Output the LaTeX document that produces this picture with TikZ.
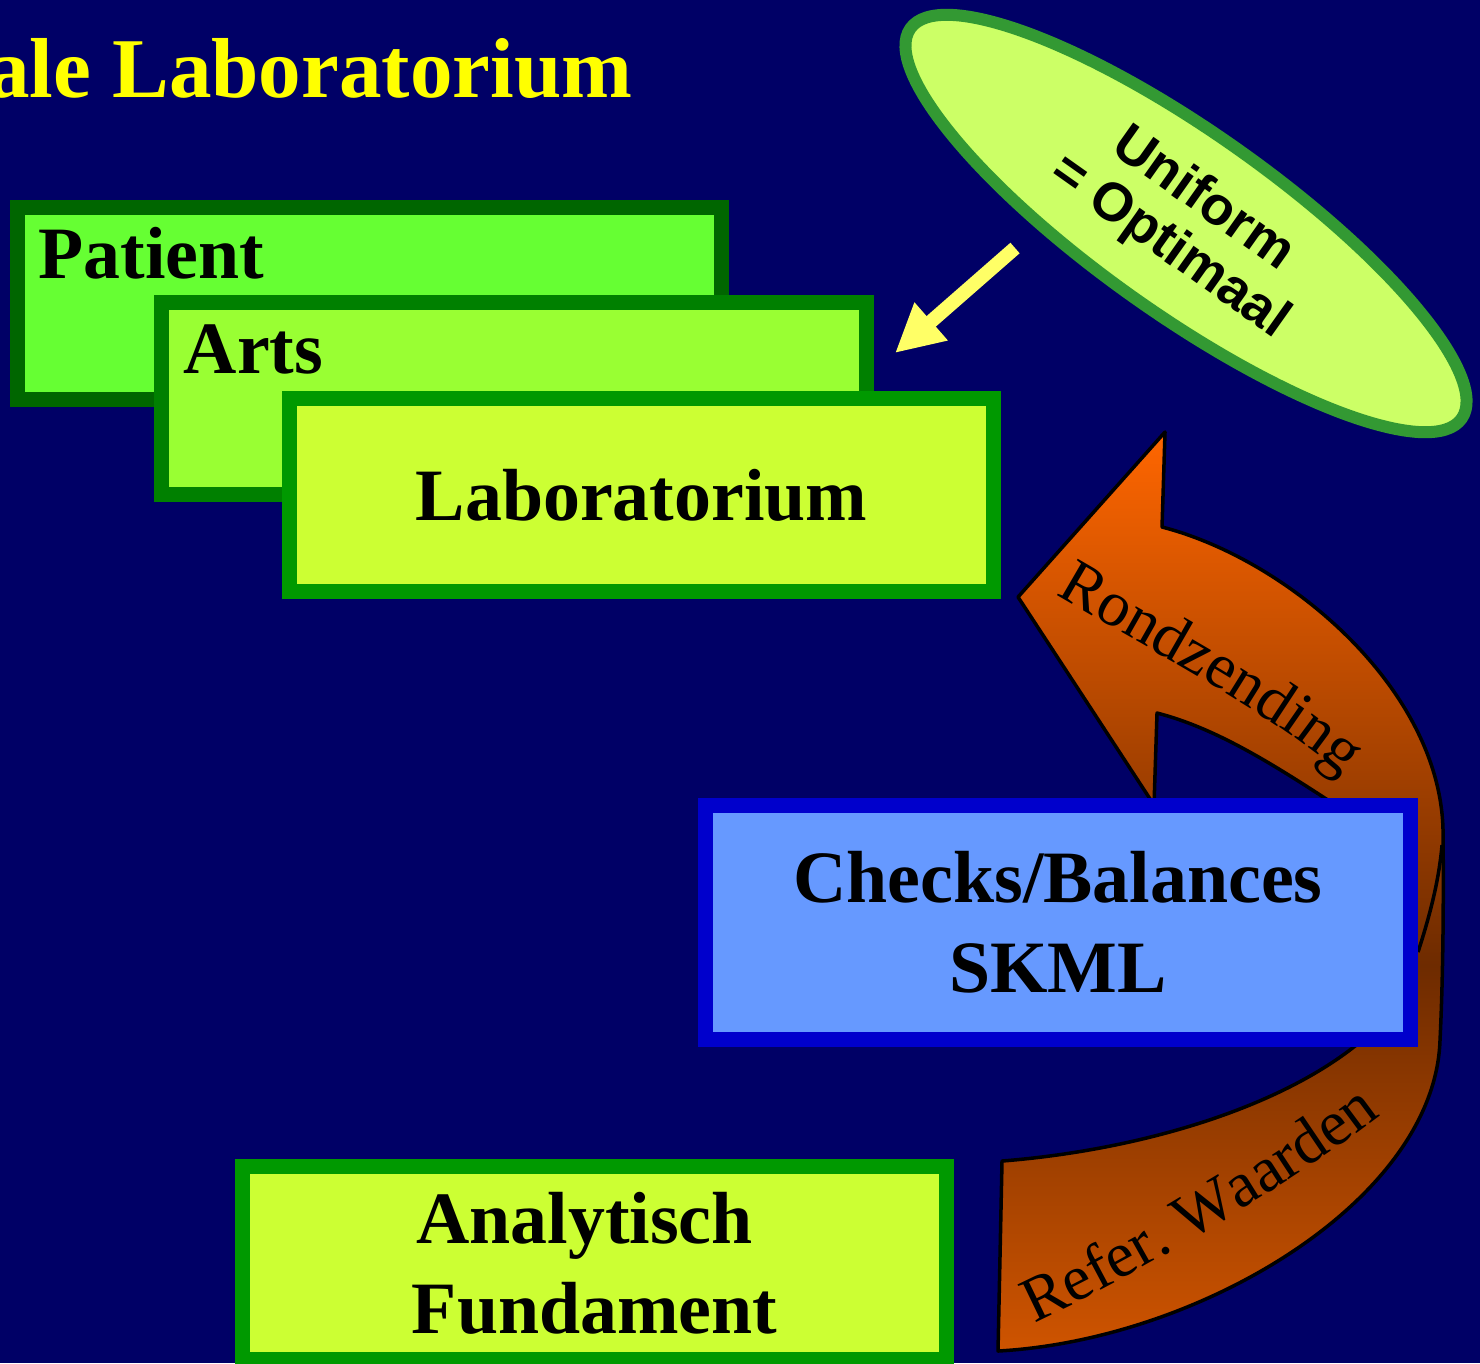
\documentclass[tikz,border=0pt]{standalone}
\usepackage{fontspec}
\setmainfont{Liberation Serif}
\newfontfamily\arialfont{Liberation Sans}
\usetikzlibrary{shapes.geometric,arrows.meta,decorations.text}

\definecolor{navybg}{HTML}{000066}
\definecolor{titleyellow}{HTML}{FFFF00}
\definecolor{patientline}{HTML}{006600}
\definecolor{patientfill}{HTML}{66FF33}
\definecolor{artsline}{HTML}{008000}
\definecolor{artsfill}{HTML}{99FF33}
\definecolor{labline}{HTML}{009900}
\definecolor{labfill}{HTML}{CCFF33}
\definecolor{checkline}{HTML}{0000CC}
\definecolor{checkfill}{HTML}{6699FF}
\definecolor{ovalline}{HTML}{339933}
\definecolor{ovalfill}{HTML}{CCFF66}
\definecolor{pointeryellow}{HTML}{FFFF66}
\definecolor{curvetop}{HTML}{FF6600}
\definecolor{curvemid}{HTML}{6E2B00}
\definecolor{curvebot}{HTML}{CF5400}

\pgfdeclareverticalshading{curveshade}{100bp}{color(0bp)=(curvebot); color(25bp)=(curvebot);
  color(46bp)=(curvemid); color(75bp)=(curvetop); color(100bp)=(curvetop)}

\newcommand{\boxfont}{\fontsize{21}{25.6}\selectfont\bfseries}
\newcommand{\headfont}{\fontsize{24.2}{28}\selectfont\bfseries}
\newcommand{\ovalfont}{\arialfont\bfseries\fontsize{15.4}{16.5}\selectfont}
\newcommand{\curvefont}{\fontsize{18.2}{20}\selectfont}

\tikzset{
  layerbox/.style={draw, line width=0.15cm, inner sep=0pt, font=\boxfont, align=center},
  boxtext/.style={inner sep=0pt, font=\boxfont},
  oval/.style={ellipse, draw=ovalline, fill=ovalfill, line width=0.12cm, inner sep=0pt,
    minimum width=6.75cm, minimum height=1.81cm, font=\ovalfont, align=center},
  pointer/.style={draw=pointeryellow, line width=0.14cm, -{Triangle[length=0.48cm, width=0.47cm]}},
  curvearrow/.style={draw=black, line width=0.035cm, line join=round, shade, shading=curveshade},
  curvetext/.style={decorate, decoration={text along path, text align=center, text={|\curvefont|#1}}}
}

\begin{document}
\begin{tikzpicture}[x=0.01cm, y=-0.01cm]
    \useasboundingbox (0,0) rectangle (1480,1363);
    \fill[navybg] (0,0) rectangle (1480,1363);  % background

    \node[anchor=base east, inner sep=0pt, font=\headfont, text=titleyellow] (title) at (633,97) {ale Laboratorium};

    % stacked layers
    \node[layerbox, draw=patientline, fill=patientfill, minimum width=7.04cm, minimum height=1.92cm] (patient) at (369.5,303.5) {};
    \node[boxtext, anchor=base west] (patienttxt) at (38,278) {Patient};
    \node[layerbox, draw=artsline, fill=artsfill, minimum width=7.05cm, minimum height=1.92cm] (arts) at (514,398.5) {};
    \node[boxtext, anchor=base west] (artstxt) at (183,373) {Arts};
    \node[layerbox, draw=labline, fill=labfill, minimum width=7.04cm, minimum height=1.93cm] (lab) at (641.5,495) {Laboratorium};

    % oval with pointer
    \node[oval, rotate=-35.3] (uniform) at (1186,223.5) {Uniform\\= Optimaal};
    \coordinate (pointerstart) at (1015,248);
    \coordinate (pointerend) at (895,353);
    \draw[pointer] (pointerstart) -- (pointerend);

    % curved arrow round the checks box
    \draw[curvearrow] (998,1351) -- (1002,1161)
        .. controls (1140,1150) and (1280,1108) .. (1360,1042)
        -- (1405,960) -- (1340,808)
        .. controls (1270,762) and (1215,728) .. (1157,713)
        -- (1154,805) -- (1018,597) -- (1165,432) -- (1162,527)
        .. controls (1290,560) and (1440,690) .. (1443,830)
        .. controls (1444,930) and (1442,1000) .. (1440,1040)
        .. controls (1435,1200) and (1200,1340) .. (998,1351) -- cycle;
    \draw[black, line width=0.035cm] (1418,952) .. controls (1430,915) and (1439,880) .. (1442,845);  % fold
    \coordinate (rondstart) at (1045,588);
    \coordinate (rondend) at (1352,785);
    \path[curvetext=Rondzending] (rondstart) .. controls (1130,640) and (1280,715) .. (rondend);
    \coordinate (referstart) at (1030,1325);
    \coordinate (referend) at (1385,1112);
    \path[curvetext={Refer. Waarden}] (referstart) .. controls (1130,1280) and (1298,1180) .. (referend);

    \node[layerbox, draw=checkline, fill=checkfill, minimum width=7.05cm, minimum height=2.34cm] (checks) at (1058,922.5) {Checks/Balances\\SKML};
    \node[layerbox, draw=labline, fill=labfill, minimum width=7.04cm, minimum height=1.93cm] (analytisch) at (594.5,1263) {Analytisch\hspace*{0.2cm}\\Fundament};
\end{tikzpicture}
\end{document}
